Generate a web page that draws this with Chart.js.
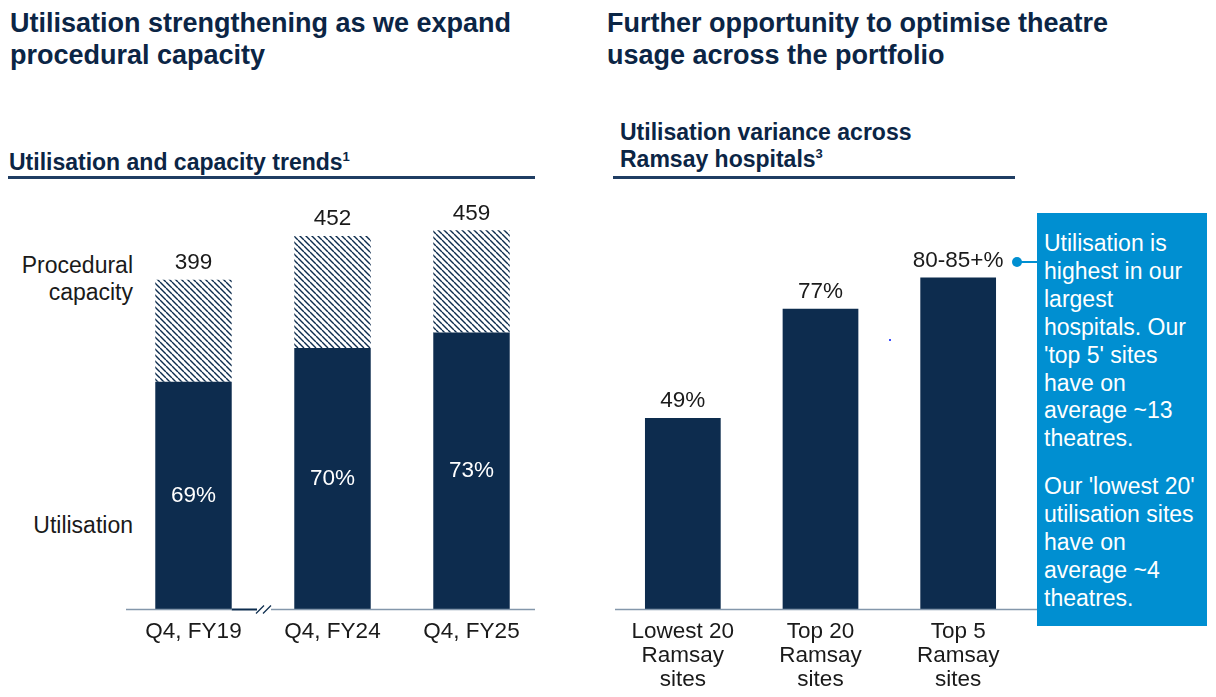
<!DOCTYPE html>
<html>
<head>
<meta charset="utf-8">
<script src="https://cdn.jsdelivr.net/npm/chart.js@4"></script>
<style>
  body { margin: 0; width: 1216px; height: 697px; background: #fff; position: relative; overflow: hidden;
         font-family: 'Liberation Sans', Arial, sans-serif; }
  .abs { position: absolute; }
  .title { font-weight: bold; font-size: 27px; line-height: 32px; color: #0b2545; white-space: nowrap; }
  .head { font-weight: bold; font-size: 23px; line-height: 27px; color: #0b2545; white-space: nowrap; }
  .head span { font-size: 13px; position: relative; top: -9px; }
  .rule { height: 3px; background: #1f3d63; }
  .lbl { font-size: 23px; line-height: 27px; color: #1a1a1a; text-align: right; white-space: nowrap; }
  .box { left: 1037px; top: 213px; width: 170px; height: 413px; background: #008fd1; color: #fff;
         font-size: 23px; line-height: 27.9px; white-space: nowrap; box-sizing: border-box; padding: 17px 0 0 7px; }
  .box p { margin: 0 0 20px 0; }
</style>
</head>
<body>

<div class="abs title" style="left:10px; top:7px;">Utilisation strengthening as we expand<br>procedural capacity</div>
<div class="abs title" style="left:607px; top:7px;">Further opportunity to optimise theatre<br>usage across the portfolio</div>

<div class="abs head" style="left:9px; top:149px;">Utilisation and capacity trends<span>1</span></div>
<div class="abs rule" style="left:8px; top:176px; width:527px;"></div>

<div class="abs head" style="left:620px; top:119px;">Utilisation variance across<br>Ramsay hospitals<span>3</span></div>
<div class="abs rule" style="left:613px; top:176px; width:402px;"></div>

<div class="abs lbl" style="right:1083px; top:252px;">Procedural<br>capacity</div>
<div class="abs lbl" style="right:1083px; top:512px;">Utilisation</div>

<canvas id="left" class="abs" style="left:124px; top:180px;" width="417" height="517"></canvas>
<canvas id="right" class="abs" style="left:614px; top:180px;" width="423" height="517"></canvas>

<div class="abs" style="left:1017px; top:261px; width:20px; height:1.5px; background:#008fd1;"></div>
<div class="abs" style="left:1012px; top:257px; width:10px; height:10px; border-radius:50%; background:#008fd1;"></div>
<div class="abs" style="left:889px; top:339px; width:2px; height:2px; background:#3b4cff;"></div>

<div class="abs box">
  <p>Utilisation is<br>highest in our<br>largest<br>hospitals. Our<br>'top 5' sites<br>have on<br>average ~13<br>theatres.</p>
  <p>Our 'lowest 20'<br>utilisation sites<br>have on<br>average ~4<br>theatres.</p>
</div>

<script>
const periods = ['Q4, FY19', 'Q4, FY24', 'Q4, FY25'];
const capacity = [399, 452, 459];
const utilisationPct = [69, 70, 73];

const siteGroups = [['Lowest 20', 'Ramsay', 'sites'], ['Top 20', 'Ramsay', 'sites'], ['Top 5', 'Ramsay', 'sites']];
const siteUtilisation = [49, 77, 85];
const siteLabels = ['49%', '77%', '80-85+%'];

const navy = '#0d2c4e';
const axisCol = '#8497ab';
const ink = '#1a1a1a';
const family = "'Liberation Sans', Arial, sans-serif";

/* ─── Helpers ───────────────────────────────────────────────────────────── */

function hatch(target) {
    const c = document.createElement('canvas');
    c.width = 6; c.height = 6;
    const g = c.getContext('2d');
    g.strokeStyle = navy;
    g.lineWidth = 1.4;
    g.beginPath();
    for (const x0 of [-6, 0, 6]) { g.moveTo(x0, 0); g.lineTo(x0 + 6, 6); }
    g.stroke();
    return target.getContext('2d').createPattern(c, 'repeat');
}

function seg(ctx, x1, y1, x2, y2) {
    ctx.beginPath();
    ctx.moveTo(x1, y1);
    ctx.lineTo(x2, y2);
    ctx.stroke();
}

function xAxis(labels) {
    return {
        stacked: true,
        labels,
        grid: { display: false, drawTicks: false },
        border: { display: false },
        ticks: { color: ink, padding: 11, maxRotation: 0, autoSkip: false, font: { family, size: 22.5, lineHeight: 1.07 } },
        afterFit: s => { s.height = 88; }
    };
}

/* ─── Plugins ───────────────────────────────────────────────────────────── */

const capacityLabels = {
    id: 'capacityLabels',
    afterDatasetsDraw(chart) {
        const { ctx } = chart;
        const used = chart.getDatasetMeta(0).data;
        const spare = chart.getDatasetMeta(1).data;
        ctx.save();
        ctx.font = `22.5px ${family}`;
        ctx.textAlign = 'center';
        ctx.textBaseline = 'middle';
        spare.forEach((b, i) => {
            ctx.fillStyle = ink;
            ctx.fillText(String(capacity[i]), b.x, b.y - 17);
            const u = used[i];
            ctx.fillStyle = '#fff';
            ctx.fillText(utilisationPct[i] + '%', u.x, (u.y + u.base) / 2);
        });
        ctx.restore();
    }
};

// baseline with the "//" break between FY19 and FY24
const brokenAxis = {
    id: 'brokenAxis',
    afterDraw(chart) {
        const { ctx, chartArea: a } = chart;
        const y = a.bottom + 0.5;
        const bars = chart.getDatasetMeta(0).data;
        const g0 = bars[0].x + bars[0].width / 2;
        const g1 = bars[1].x - bars[1].width / 2;
        const mid = (g0 + g1) / 2;
        ctx.save();
        ctx.strokeStyle = axisCol; ctx.lineWidth = 1.5;
        seg(ctx, a.left + 2, y, g0, y);
        seg(ctx, mid + 8, y, a.right - 6, y);
        ctx.strokeStyle = navy; ctx.lineWidth = 2;
        seg(ctx, g0, y, mid - 6, y);
        ctx.lineWidth = 1.3;
        for (const dx of [-3, 4]) seg(ctx, mid + dx - 4, y + 4, mid + dx + 4, y - 4);
        ctx.restore();
    }
};

const siteValueLabels = {
    id: 'siteValueLabels',
    afterDatasetsDraw(chart) {
        const { ctx } = chart;
        ctx.save();
        ctx.font = `22.5px ${family}`;
        ctx.textAlign = 'center';
        ctx.textBaseline = 'middle';
        ctx.fillStyle = ink;
        chart.getDatasetMeta(0).data.forEach((b, i) => ctx.fillText(siteLabels[i], b.x, b.y - 17));
        ctx.restore();
    }
};

const plainAxis = {
    id: 'plainAxis',
    afterDraw(chart) {
        const { ctx, chartArea: a } = chart;
        ctx.save();
        ctx.strokeStyle = axisCol; ctx.lineWidth = 1.5;
        seg(ctx, a.left + 1, a.bottom + 0.5, chart.width, a.bottom + 0.5);
        ctx.restore();
    }
};

/* ─── Charts ────────────────────────────────────────────────────────────── */

const leftEl = document.getElementById('left');
const usedCap = capacity.map((c, i) => c * utilisationPct[i] / 100);
const spareCap = capacity.map((c, i) => c - usedCap[i]);

new Chart(leftEl, {
    type: 'bar',
    data: {
        labels: periods,
        datasets: [
            { label: 'Utilisation', data: usedCap, backgroundColor: navy, borderWidth: 0, barPercentage: 0.55, categoryPercentage: 1 },
            { label: 'Procedural capacity', data: spareCap, backgroundColor: hatch(leftEl), borderWidth: 0, barPercentage: 0.55, categoryPercentage: 1 }
        ]
    },
    options: {
        responsive: false,
        animation: false,
        layout: { padding: 0 },
        plugins: { legend: { display: false }, tooltip: { enabled: false } },
        scales: {
            x: xAxis(periods),
            y: { stacked: true, display: false, min: 0, max: 520 }
        }
    },
    plugins: [capacityLabels, brokenAxis]
});

new Chart(document.getElementById('right'), {
    type: 'bar',
    data: {
        labels: siteGroups,
        datasets: [
            { label: 'Utilisation', data: siteUtilisation, backgroundColor: navy, borderWidth: 0, barPercentage: 0.55, categoryPercentage: 1 }
        ]
    },
    options: {
        responsive: false,
        animation: false,
        layout: { padding: { right: 10 } },
        plugins: { legend: { display: false }, tooltip: { enabled: false } },
        scales: {
            x: xAxis(siteGroups),
            y: { display: false, min: 0, max: 110 }
        }
    },
    plugins: [siteValueLabels, plainAxis]
});
</script>
</body>
</html>
